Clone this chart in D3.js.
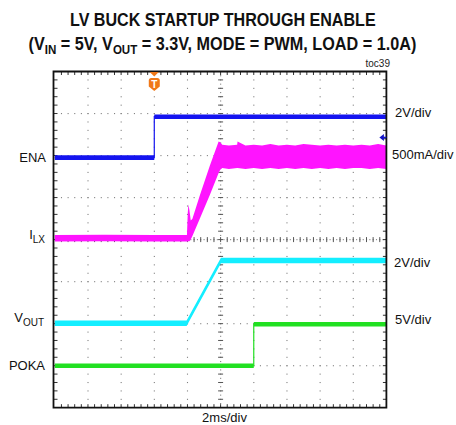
<!DOCTYPE html>
<html>
<head>
<meta charset="utf-8">
<script src="https://cdn.jsdelivr.net/npm/d3@7"></script>
<style>
html,body{margin:0;padding:0;background:#fff;}
svg{display:block;font-family:"Liberation Sans",Arial,sans-serif;}
</style>
</head>
<body>
<svg id="chart" width="456" height="425"></svg>
<script>
// ---------------- data ----------------
// time in ms, relative to trigger (2ms/div, 20 ms screen)
const timeDomain = [-6, 14];
// ENA (2V/div)
const enaT = [-6, 0, 0, 14];
const enaV = [0, 0, 1.95, 1.95];
// VOUT (2V/div)
const voutT = [-6, 1.95, 4.02, 14];
const voutV = [0, 0, 2.99, 2.99];
// POKA (5V/div)
const pokaT = [-6, 6.0, 6.0, 14];
const pokaV = [0, 0, 4.93, 4.93];
// I_LX (500mA/div) envelope of the switching ripple
const ilxT     = [-6, -3, 0, 1.97, 2.02, 2.06, 2.12, 2.2, 2.3, 2.75, 3.35, 3.88, 3.98, 4.1, 4.5, 5.0, 5.02, 5.5, 6.0, 6.5, 7.0, 7.5, 8.0, 8.5, 9.0, 9.5, 10.0, 10.5, 11.0, 11.5, 12.0, 12.5, 13.0, 13.5, 14.0];
const ilxUpper = [0.035, 0.04, 0.035, 0.035, 0.30, 0.40, 0.33, 0.21, 0.23, 0.51, 0.86, 1.15, 1.14, 1.11, 1.10, 1.11, 1.15, 1.10, 1.11, 1.10, 1.12, 1.10, 1.11, 1.10, 1.12, 1.11, 1.10, 1.11, 1.10, 1.11, 1.10, 1.11, 1.10, 1.12, 1.10];
const ilxLower = [-0.035, -0.03, -0.035, -0.035, -0.035, -0.03, -0.03, -0.01, 0.03, 0.24, 0.52, 0.78, 0.82, 0.84, 0.83, 0.84, 0.84, 0.83, 0.84, 0.83, 0.84, 0.83, 0.84, 0.83, 0.84, 0.83, 0.84, 0.83, 0.84, 0.83, 0.84, 0.84, 0.83, 0.84, 0.83];

// channel settings: ground position (divisions from bottom) and units per division
const channels = [
  {name: "ENA", t: enaT, v: enaV, offset: 5.95, perDiv: 2, color: "#1414f0", scaleLabel: "2V/div"},
  {name: "ILX", offset: 4.03, perDiv: 0.5, color: "#ff14ff", scaleLabel: "500mA/div"},
  {name: "VOUT", t: voutT, v: voutV, offset: 2.008, perDiv: 2, color: "#14eeff", scaleLabel: "2V/div"},
  {name: "POKA", t: pokaT, v: pokaV, offset: 1.0, perDiv: 5, color: "#22e022", scaleLabel: "5V/div"}
];

// ---------------- drawing ----------------
const svg = d3.select("#chart");
const X0 = 54.8, X1 = 386.4, Y0 = 407.7, Y1 = 71.5;
const x = d3.scaleLinear().domain(timeDomain).range([X0, X1]);
const xDiv = d3.scaleLinear().domain([0, 10]).range([X0, X1]);
const yDiv = d3.scaleLinear().domain([0, 8]).range([Y0, Y1]);

// title (horizontally condensed to the reference width)
function fitTitle(cx, cy, width, parts) {
  const g = svg.append("g");
  const t = g.append("text").attr("x", 0).attr("y", 0).attr("font-weight", "bold")
    .attr("font-size", 17.5).attr("fill", "#111");
  let sub = false;
  parts.forEach(p => {
    const ts = t.append("tspan").text(p[0]);
    if (p[1] && !sub) { ts.attr("font-size", 12.5).attr("dy", 4); sub = true; }
    else if (!p[1] && sub) { ts.attr("dy", -4); sub = false; }
  });
  const w = t.node().getComputedTextLength();
  const s = width / w;
  g.attr("transform", `translate(${cx - width / 2},${cy}) scale(${s},1)`);
}
fitTitle(223, 26, 306, [["LV BUCK STARTUP THROUGH ENABLE", 0]]);
fitTitle(222.5, 50, 388, [["(V",0],["IN",1],[" = 5V, V",0],["OUT",1],[" = 3.3V, MODE = PWM, LOAD = 1.0A)",0]]);
svg.append("text").attr("x", 390).attr("y", 67).attr("text-anchor", "end")
  .attr("font-size", 10).attr("fill", "#222").text("toc39");

// grid (dotted, dots every 1/5 division)
const grid = svg.append("g").attr("fill", "#808080");
for (let i = 1; i < 10; i++) {
  if (i === 5) continue;
  for (let j = 1; j < 40; j++) {
    grid.append("rect").attr("x", xDiv(i) - 0.5).attr("y", yDiv(j / 5) - 0.5).attr("width", 1.1).attr("height", 1.1);
  }
}
for (let j = 1; j < 8; j++) {
  if (j === 4) continue;
  for (let i = 1; i < 50; i++) {
    grid.append("rect").attr("x", xDiv(i / 5) - 0.5).attr("y", yDiv(j) - 0.5).attr("width", 1.1).attr("height", 1.1);
  }
}
// centre lines with ticks
const cl = svg.append("g").attr("stroke", "#555").attr("stroke-width", 1);
for (let j = 1; j < 40; j++) {
  cl.append("line").attr("x1", xDiv(5) - 2.5).attr("x2", xDiv(5) + 2.5).attr("y1", yDiv(j / 5)).attr("y2", yDiv(j / 5));
}
for (let i = 1; i < 50; i++) {
  cl.append("line").attr("y1", yDiv(4) - 2.5).attr("y2", yDiv(4) + 2.5).attr("x1", xDiv(i / 5)).attr("x2", xDiv(i / 5));
}
for (let j = 1; j < 80; j++) {
  grid.append("rect").attr("x", xDiv(5) - 0.5).attr("y", yDiv(j / 10) - 0.5).attr("width", 1.1).attr("height", 1.1);
}
for (let i = 1; i < 100; i++) {
  grid.append("rect").attr("x", xDiv(i / 10) - 0.5).attr("y", yDiv(4) - 0.5).attr("width", 1.1).attr("height", 1.1);
}

// frame ticks (inward)
const ft = svg.append("g").attr("stroke", "#333").attr("stroke-width", 1);
for (let i = 1; i < 50; i++) {
  ft.append("line").attr("x1", xDiv(i / 5)).attr("x2", xDiv(i / 5)).attr("y1", Y1).attr("y2", Y1 + 3.5);
  ft.append("line").attr("x1", xDiv(i / 5)).attr("x2", xDiv(i / 5)).attr("y1", Y0).attr("y2", Y0 - 3.5);
}
for (let j = 1; j < 40; j++) {
  ft.append("line").attr("y1", yDiv(j / 5)).attr("y2", yDiv(j / 5)).attr("x1", 53.5).attr("x2", 57.5);
  ft.append("line").attr("y1", yDiv(j / 5)).attr("y2", yDiv(j / 5)).attr("x1", X1).attr("x2", X1 - 3.5);
}

// traces
const yOf = ch => v => yDiv(ch.offset + v / ch.perDiv);
const traces = svg.append("g");
channels.forEach(ch => {
  const y = yOf(ch);
  if (ch.name === "ILX") {
    const pts = ilxT.map((t, i) => ({t, hi: ilxUpper[i], lo: ilxLower[i]}));
    traces.append("path").datum(pts).attr("fill", ch.color)
      .attr("d", d3.area().x(d => x(d.t)).y0(d => y(d.lo) + 0.3).y1(d => y(d.hi) - 0.3));
    return;
  }
  const pts = ch.t.map((t, i) => ({t, v: ch.v[i]}));
  const half = ch.name === "VOUT" ? 2.7 : 2.3;
  traces.append("path").datum(pts).attr("fill", ch.color)
    .attr("d", d3.area().x(d => x(d.t)).y0(d => y(d.v) + half).y1(d => y(d.v) - half));
  traces.append("path").datum(pts).attr("fill", "none").attr("stroke", ch.color).attr("stroke-width", 1.2)
    .attr("d", d3.line().x(d => x(d.t)).y(d => y(d.v)));
});

// frame
const fr = svg.append("g").attr("stroke", "#111").attr("stroke-width", 1.8).attr("fill", "none");
fr.append("path").attr("d", `M53.5,${Y1}H${X1}V${Y0}H53.5Z`);

// trigger marker
const tx = x(0);
svg.append("path").attr("fill", "#f07818")
  .attr("d", `M${tx - 4.5},${Y1 + 0.5}L${tx + 4.5},${Y1 + 0.5}L${tx},${Y1 + 5}Z`);
svg.append("path").attr("fill", "#f07818")
  .attr("d", `M${tx - 5.5},${Y1 + 9}Q${tx - 5.5},${Y1 + 6.5} ${tx - 3},${Y1 + 6.5}L${tx + 3},${Y1 + 6.5}Q${tx + 5.5},${Y1 + 6.5} ${tx + 5.5},${Y1 + 9}L${tx + 5.5},${Y1 + 15}L${tx},${Y1 + 19.5}L${tx - 5.5},${Y1 + 15}Z`);
svg.append("text").attr("x", tx).attr("y", Y1 + 16).attr("text-anchor", "middle")
  .attr("font-size", 10).attr("font-weight", "bold").attr("fill", "#fff").text("T");

// right-side blue marker
const my = yDiv(6.43);
svg.append("path").attr("fill", "#1414c8").attr("d", `M${X1 - 7},${my}L${X1 - 2.5},${my - 3.5}L${X1 - 2.5},${my + 3.5}Z`);
svg.append("line").attr("x1", X1 - 3).attr("x2", X1).attr("y1", my).attr("y2", my).attr("stroke", "#1414c8").attr("stroke-width", 1.5);

// left labels
const lab = svg.append("g").attr("font-size", 13).attr("fill", "#111").attr("text-anchor", "end");
const yE = yOf(channels[0])(0), yI = yOf(channels[1])(0), yV = yOf(channels[2])(0), yP = yOf(channels[3])(0);
lab.append("text").attr("x", 46).attr("y", yE + 4.5).text("ENA");
const il = lab.append("text").attr("x", 45).attr("y", yI + 1);
il.append("tspan").text("I");
il.append("tspan").attr("font-size", 10).attr("dy", 4).text("LX");
const vl = lab.append("text").attr("x", 44).attr("y", yV - 1);
vl.append("tspan").text("V");
vl.append("tspan").attr("font-size", 10).attr("dy", 4).text("OUT");
lab.append("text").attr("x", 45).attr("y", yP + 4.5).text("POKA");

// right labels
const rl = svg.append("g").attr("font-size", 13).attr("fill", "#111");
rl.append("text").attr("x", 395).attr("y", 117).text(channels[0].scaleLabel);
rl.append("text").attr("x", 392).attr("y", 159).text(channels[1].scaleLabel);
rl.append("text").attr("x", 394).attr("y", 267).text(channels[2].scaleLabel);
rl.append("text").attr("x", 395).attr("y", 324).text(channels[3].scaleLabel);
svg.append("text").attr("x", 224.5).attr("y", 422).attr("text-anchor", "middle")
  .attr("font-size", 13).attr("fill", "#111").text("2ms/div");
</script>
</body>
</html>
